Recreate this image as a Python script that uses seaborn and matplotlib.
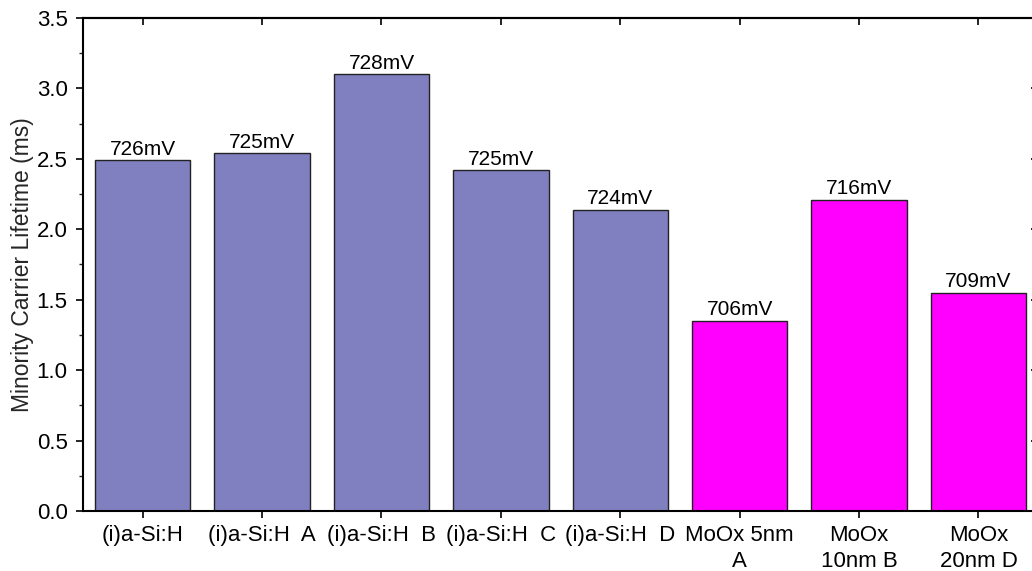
import matplotlib
matplotlib.use("Agg")
import matplotlib.pyplot as plt
import pandas as pd
import seaborn as sns
from matplotlib.ticker import MultipleLocator, FormatStrFormatter

# Lifetime data
samples = ['(i)a-Si:H', '(i)a-Si:H  A', '(i)a-Si:H  B', '(i)a-Si:H  C',
           '(i)a-Si:H  D', 'MoOx 5nm\nA', 'MoOx\n10nm B', 'MoOx\n20nm D']
lifetime_ms = [2.49, 2.54, 3.10, 2.42, 2.14, 1.35, 2.21, 1.55]
implied_voc = ['726mV', '725mV', '728mV', '725mV', '724mV', '706mV', '716mV', '709mV']
bar_colors = ['#8080C0'] * 5 + ['#FF00FF'] * 3

df = pd.DataFrame({'Sample': samples, 'Lifetime': lifetime_ms})

sns.set_style("ticks")
plt.rcParams['font.family'] = ['Liberation Sans', 'DejaVu Sans']

fig = plt.figure(figsize=(10.32, 5.71), dpi=100)
# axes runs slightly past the right edge of the image, as in the original
ax = fig.add_axes([0.0804, 0.1051, 0.9256, 0.8634])

sns.barplot(data=df, x='Sample', y='Lifetime', hue='Sample', palette=bar_colors,
            legend=False, width=0.8, edgecolor='#222222', linewidth=1.0,
            saturation=1, ax=ax)

for cont, lab in zip(ax.containers, implied_voc):
    ax.bar_label(cont, labels=[lab], padding=1, fontsize=15, color='black')

ax.set_xlim(-0.5, 7.5)
ax.set_ylim(0, 3.5)
ax.yaxis.set_major_locator(MultipleLocator(0.5))
ax.yaxis.set_minor_locator(MultipleLocator(0.25))
ax.yaxis.set_major_formatter(FormatStrFormatter('%.1f'))

ax.set_xlabel('')
ax.set_ylabel('Minority Carrier Lifetime (ms)', fontsize=16.5, labelpad=2)

for sp in ax.spines.values():
    sp.set_visible(True)
    sp.set_linewidth(1.5)
    sp.set_color('black')

ax.tick_params(axis='both', which='major', labelsize=16, length=5, width=1.2,
               colors='black', direction='out')
ax.tick_params(axis='x', which='major', pad=5)
ax.tick_params(axis='y', which='major', pad=6)
ax.tick_params(axis='y', which='minor', length=3, width=1.0, direction='out')
for lbl in ax.get_xticklabels():
    lbl.set_linespacing(1.35)

# mirrored inward ticks on top and right
top = ax.secondary_xaxis('top')
top.set_xticks(range(len(samples)))
top.tick_params(direction='in', length=5, width=1.2, color='black', labeltop=False)
top.spines['top'].set_linewidth(1.5)
right = ax.secondary_yaxis('right')
right.yaxis.set_major_locator(MultipleLocator(0.5))
right.tick_params(direction='in', length=5, width=1.2, color='black', labelright=False)
right.spines['right'].set_linewidth(1.5)

plt.savefig('out.png', dpi=100)
